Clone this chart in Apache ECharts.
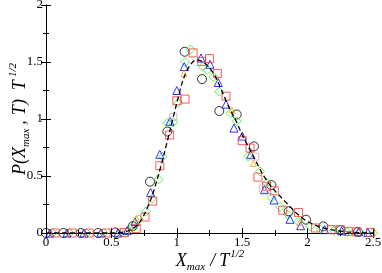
<!DOCTYPE html>
<html><head><meta charset="utf-8">
<script src="https://cdn.jsdelivr.net/npm/echarts@6/dist/echarts.min.js"></script>
<style>html,body{margin:0;padding:0;background:#fff}#c{width:382px;height:273px}</style>
</head><body><div id="c"></div>
<script>
const xTicks = [0, 0.5, 1, 1.5, 2, 2.5];
const yTicks = [0, 0.5, 1, 1.5, 2];

const curveX = [0, 0.5, 0.6, 0.65, 0.7, 0.75, 0.8, 0.85, 0.9, 0.95, 1.0, 1.05, 1.1, 1.15, 1.2, 1.25, 1.3, 1.35, 1.4, 1.45, 1.5, 1.55, 1.6, 1.65, 1.7, 1.75, 1.8, 1.85, 1.9, 1.95, 2.0, 2.1, 2.2, 2.3, 2.4, 2.5];
const curveY = [0, 0, 0.01, 0.03, 0.07, 0.16, 0.29, 0.47, 0.68, 0.91, 1.14, 1.35, 1.47, 1.52, 1.50, 1.45, 1.36, 1.23, 1.10, 0.99, 0.86, 0.75, 0.64, 0.53, 0.44, 0.37, 0.31, 0.25, 0.19, 0.14, 0.10, 0.05, 0.025, 0.01, 0.003, 0];

const circX = [0, 0.133, 0.265, 0.398, 0.53, 0.663, 0.795, 0.928, 1.06, 1.193, 1.325, 1.458, 1.59, 1.723, 1.855, 1.988, 2.12, 2.253, 2.385];
const circY = [0, 0, 0, 0, 0.005, 0.06, 0.45, 0.89, 1.59, 1.35, 1.07, 1.04, 0.76, 0.42, 0.19, 0.117, 0.058, 0.025, 0.01];

const sqX = [0.07, 0.2, 0.33, 0.46, 0.6, 0.69, 0.757, 0.816, 0.87, 0.945, 1.0, 1.063, 1.125, 1.19, 1.25, 1.31, 1.376, 1.5, 1.56, 1.62, 1.687, 1.745, 1.81, 1.93, 2.06, 2.18, 2.25, 2.31, 2.375, 2.48];
const sqY = [0, 0, 0, 0, 0.005, 0.04, 0.14, 0.28, 0.59, 0.86, 1.16, 1.175, 1.58, 1.505, 1.53, 1.40, 1.20, 0.81, 0.745, 0.49, 0.41, 0.37, 0.20, 0.18, 0.044, 0.03, 0.03, 0.015, 0.01, 0.005];

const diaX = [0.05, 0.18, 0.31, 0.44, 0.57, 0.625, 0.667, 0.71, 0.765, 0.81, 0.86, 0.892, 0.927, 0.973, 1.01, 1.063, 1.106, 1.198, 1.233, 1.28, 1.325, 1.41, 1.458, 1.547, 1.636, 1.687, 1.725, 1.79, 1.85, 1.93, 2.02, 2.1, 2.2, 2.3, 2.4, 2.5];
const diaY = [0, 0, 0, 0, 0.005, 0.02, 0.06, 0.12, 0.19, 0.30, 0.47, 0.67, 0.965, 0.97, 1.14, 1.50, 1.61, 1.46, 1.43, 1.37, 1.24, 1.05, 0.98, 0.67, 0.54, 0.44, 0.31, 0.23, 0.16, 0.10, 0.06, 0.03, 0.02, 0.01, 0.005, 0];

const triX = [0.03, 0.16, 0.29, 0.42, 0.55, 0.62, 0.68, 0.80, 0.87, 0.948, 1.0, 1.057, 1.185, 1.254, 1.317, 1.376, 1.437, 1.5, 1.565, 1.67, 1.743, 1.865, 1.947, 2.13, 2.26, 2.39, 2.46];
const triY = [0, 0, 0, 0, 0, 0.02, 0.10, 0.356, 0.69, 0.98, 1.25, 1.46, 1.535, 1.48, 1.32, 1.13, 0.92, 0.85, 0.69, 0.38, 0.29, 0.12, 0.064, 0.03, 0.02, 0.01, 0.005];

const orX = [0.69, 1.055, 1.42, 1.585, 1.94];
const orY = [0.13, 1.40, 1.08, 0.61, 0.09];

const pkX = [0.973, 1.6, 1.66];
const pkY = [1.02, 0.67, 0.39];

const zip = (a, b) => a.map((v, i) => [v, b[i]]);
const chart = echarts.init(document.getElementById('c'), null, {renderer: 'canvas'});
const serifName = '"Liberation Serif"';
const serif = '"Liberation Serif", "DejaVu Serif", serif';

// layout of axis titles made of pieces (big / subscript / superscript)
const mctx = document.createElement('canvas').getContext('2d');
function pieces(parts, big, small) {
  let x = 0; const out = [];
  for (const p of parts) {
    const size = p.k === 'b' ? big : small;
    const font = 'italic ' + size + 'px ' + serif;
    mctx.font = font;
    const dy = p.k === 's' ? 4 : (p.k === 'p' ? -9 : 0);
    out.push({type: 'text', x: x + (p.gap || 0), y: dy - 0.34 * size,
      style: {text: p.t, font: font, fill: '#000', align: 'left', verticalAlign: 'middle'}, silent: true});
    x += (p.gap || 0) + mctx.measureText(p.t).width;
  }
  return {children: out, width: x};
}
const xTitle = pieces([{t: 'X', k: 'b'}, {t: 'max', k: 's'}, {t: '/', k: 'b', gap: 5}, {t: 'T', k: 'b', gap: 4}, {t: '1/2', k: 'p', gap: 1}], 18, 11);
const yTitle = pieces([{t: 'P(X', k: 'b'}, {t: 'max', k: 's'}, {t: ',', k: 'b', gap: 4}, {t: 'T)', k: 'b', gap: 5}, {t: 'T', k: 'b', gap: 9}, {t: '1/2', k: 'p', gap: 3}], 18, 11);

const axisCommon = {
  axisLine: {show: true, lineStyle: {color: '#000', width: 1}},
  axisTick: {show: true, inside: true, length: 5, lineStyle: {color: '#000', width: 1}},
  minorTick: {show: true, splitNumber: 2, length: 3, lineStyle: {color: '#000', width: 1}},
  splitLine: {show: false},
  axisLabel: {color: '#000', fontFamily: serif, fontSize: 13}
};
function hollow(name, sym, size, color, x, y) {
  return {name, type: 'scatter', xAxisIndex: 0, yAxisIndex: 0, symbol: sym, symbolSize: size,
    symbolKeepAspect: true,
    itemStyle: {color: 'rgba(0,0,0,0)', borderColor: color, borderWidth: 1},
    data: zip(x, y), z: 3};
}
chart.setOption({
  animation: false,
  grid: {left: 46, right: 9, top: 5, bottom: 40, containLabel: false, outerBoundsMode: 'none'},
  xAxis: [
    Object.assign({}, axisCommon, {type: 'value', min: xTicks[0], max: xTicks[xTicks.length - 1], interval: 0.5, position: 'bottom',
      axisLabel: Object.assign({}, axisCommon.axisLabel, {margin: 3, formatter: v => String(v)})}),
    Object.assign({}, axisCommon, {type: 'value', min: 0, max: 2.5, interval: 0.5, position: 'top', axisLabel: {show: false}})
  ],
  yAxis: [
    Object.assign({}, axisCommon, {type: 'value', min: yTicks[0], max: yTicks[yTicks.length - 1], interval: 0.5, position: 'left',
      axisLabel: Object.assign({}, axisCommon.axisLabel, {margin: 3, formatter: v => String(v)})}),
    Object.assign({}, axisCommon, {type: 'value', min: 0, max: 2, interval: 0.5, position: 'right', axisLabel: {show: false}})
  ],
  graphic: [
    {type: 'group', x: 210 - xTitle.width / 2, y: 267, children: xTitle.children},
    {type: 'group', x: 26, y: 119 + yTitle.width / 2, rotation: Math.PI / 2, children: yTitle.children}
  ],
  series: [
    {name: 'theory', type: 'line', xAxisIndex: 0, yAxisIndex: 0, showSymbol: false, smooth: 0.3,
      lineStyle: {color: '#000', width: 1.3, type: [5, 3]}, data: zip(curveX, curveY), z: 4},
    hollow('circles', 'circle', 9, '#000', circX, circY),
    hollow('diamonds', 'path://M0,-1L1,0L0,1L-1,0Z', 9, '#22ee22', diaX, diaY),
    hollow('triangles', 'triangle', 8, '#0000ff', triX, triY),
    hollow('squares', 'rect', 8, '#ff3333', sqX, sqY),
    hollow('orange', 'triangle', 6, '#ffa500', orX, orY),
    hollow('pink', 'rect', 7, '#d8a8a8', pkX, pkY)
  ]
});
</script></body></html>
